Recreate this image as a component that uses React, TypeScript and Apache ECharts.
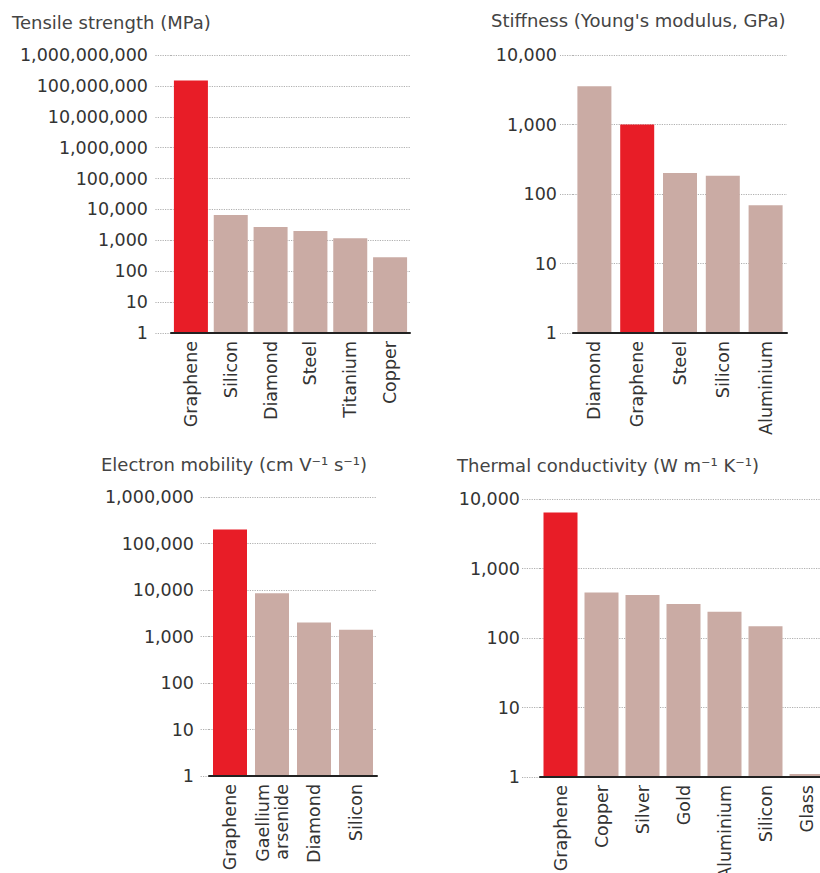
import React, { useEffect, useRef } from "react";
import * as echarts from "echarts";

const tensileCategories = ["Graphene", "Silicon", "Diamond", "Steel", "Titanium", "Copper"];
const tensileValues = [150000000, 6600, 2700, 2000, 1160, 284];

const stiffnessCategories = ["Diamond", "Graphene", "Steel", "Silicon", "Aluminium"];
const stiffnessValues = [3550, 1000, 200, 183, 69];

const mobilityCategories = ["Graphene", "Gaellium\narsenide", "Diamond", "Silicon"];
const mobilityValues = [200000, 8500, 2000, 1400];

const thermalCategories = ["Graphene", "Copper", "Silver", "Gold", "Aluminium", "Silicon", "Glass"];
const thermalValues = [6400, 451, 417, 309, 239, 148, 1.1];

const titles = [
  "Tensile strength (MPa)",
  "Stiffness (Young's modulus, GPa)",
  "Electron mobility (cm V\u207B\u00B9 s\u207B\u00B9)",
  "Thermal conductivity (W m\u207B\u00B9 K\u207B\u00B9)",
];
const axisMax = [1000000000, 10000, 1000000, 10000];

const RED = "#e81d27";
const TAN = "#caaba4";
const FONT = "DejaVu Sans";

export default function App() {
  const ref = useRef<HTMLDivElement>(null);
  useEffect(() => {
    if (!ref.current) return;
    const chart = echarts.init(ref.current, undefined, { renderer: "svg" });
    const panels = [
      { cats: tensileCategories, vals: tensileValues, grid: { left: 171, top: 55, width: 239, height: 278 }, margin: 23, tick: 16, title: { left: 12, top: 13 } },
      { cats: stiffnessCategories, vals: stiffnessValues, grid: { left: 573, top: 55, width: 214, height: 278 }, margin: 16, tick: 13, title: { left: 491, top: 11 } },
      { cats: mobilityCategories, vals: mobilityValues, grid: { left: 209, top: 497, width: 168, height: 279 }, margin: 15, tick: 9, title: { left: 101, top: 455 } },
      { cats: thermalCategories, vals: thermalValues, grid: { left: 540, top: 499, width: 287, height: 278 }, margin: 20, tick: 18, title: { left: 457, top: 456 } },
    ];
    const option: any = {
      animation: false,
      backgroundColor: "#ffffff",
      title: panels.map((p, i) => ({
        text: titles[i],
        left: p.title.left,
        top: p.title.top,
        padding: 0,
        textStyle: { fontFamily: FONT, fontSize: 18, fontWeight: "normal", color: "#444" },
      })),
      grid: panels.map((p) => ({ ...p.grid, containLabel: false, outerBoundsMode: "none" })),
      xAxis: panels.map((p, i) => ({
        type: "category",
        gridIndex: i,
        data: p.cats,
        axisLine: { show: true, lineStyle: { color: "#222", width: 2 } },
        axisTick: { show: false },
        axisLabel: {
          rotate: 90,
          interval: 0,
          margin: 8,
          fontFamily: FONT,
          fontSize: 17.5,
          color: "#333",
          lineHeight: 19,
          hideOverlap: false,
        },
        z: 5,
      })),
      yAxis: panels.map((p, i) => ({
        type: "log",
        logBase: 10,
        gridIndex: i,
        min: 1,
        max: axisMax[i],
        splitNumber: Math.round(Math.log10(axisMax[i])),
        axisLine: { show: false },
        axisTick: { show: true, length: p.tick, lineStyle: { color: "#b0b0b0", type: "dotted", width: 1.2 } },
        splitLine: { show: true, lineStyle: { color: "#b0b0b0", type: "dotted", width: 1.2 } },
        axisLabel: {
          margin: p.margin,
          fontFamily: FONT,
          fontSize: 17.5,
          color: "#333",
          formatter: (v: number) => Math.round(v).toLocaleString("en-US"),
        },
      })),
      series: panels.map((p, i) => ({
        type: "bar",
        xAxisIndex: i,
        yAxisIndex: i,
        barWidth: 34,
        data: p.vals.map((v, j) => ({
          value: v,
          itemStyle: { color: p.cats[j] === "Graphene" ? RED : TAN },
        })),
      })),
    };
    chart.setOption(option);
    return () => chart.dispose();
  }, []);
  return (
    <div
      ref={ref}
      style={{ position: "absolute", left: 0, top: 0, width: 820, height: 873, overflow: "hidden" }}
    />
  );
}
